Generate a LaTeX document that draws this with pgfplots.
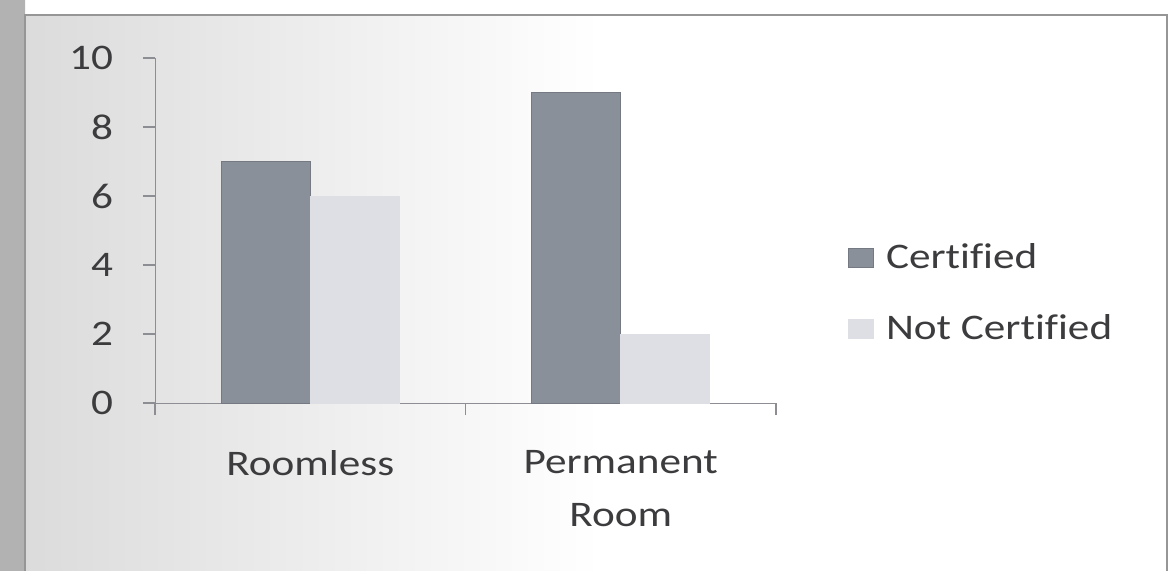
\documentclass[border=0pt]{standalone}
\usepackage{fontspec}
\setmainfont{Carlito}[FakeStretch=1.2, Ligatures=NoCommon]
\usepackage{pgfplots}
\pgfplotsset{compat=1.18}
\definecolor{certified}{RGB}{138,144,153}
\definecolor{notcertified}{RGB}{222,223,229}
\definecolor{axisgray}{RGB}{140,142,148}
\definecolor{labeltext}{RGB}{60,60,62}
\definecolor{framegray}{RGB}{150,150,150}
\begin{document}
\begin{tikzpicture}
% page area
\path[use as bounding box] (0,0) rectangle (586.5pt,285pt);
\shade[left color=black!30, right color=black!30] (0,0) rectangle (12.5pt,285pt);
\shade[left color=black!14, right color=white] (12.5pt,0) rectangle (300pt,277.5pt);
\fill[white] (300pt,0) rectangle (583.5pt,277.5pt);
\draw[framegray, line width=1pt] (12.5pt,-2pt) -- (12.5pt,277.5pt) -- (583.5pt,277.5pt) -- (583.5pt,-2pt);
\begin{axis}[
  at={(77.5pt,83.5pt)}, anchor=south west,
  scale only axis,
  width=310.5pt, height=172.5pt,
  xmin=-0.5, xmax=1.5,
  ymin=0, ymax=10,
  ytick={0,2,4,6,8,10},
  xtick={-0.5,0.5,1.5},
  xticklabels={},
  extra x ticks={0,1},
  extra x tick labels={Roomless,{Permanent\\Room}},
  extra x tick style={major tick length=0pt},
  axis x line=bottom, axis y line=left,
  axis line style={axisgray, -},
  tick style={axisgray, line width=0.6pt},
  major tick length=6pt,
  tick align=outside,
  ybar=0pt, bar width=44.5pt,
  /pgf/number format/assume math mode=true,
  tick label style={font=\fontsize{18}{26.5}\selectfont, text=labeltext},
  xticklabel style={align=center, yshift=-20pt},
  yticklabel style={xshift=-11.5pt},
  legend style={draw=none, fill=none, at={(1.116,0.319)}, anchor=west,
    font=\fontsize{18}{22}\selectfont, text=labeltext,
    row sep=17.5pt, inner sep=0pt,
    /tikz/every odd column/.append style={column sep=4pt}},
  legend cell align=left,
  legend image code/.code={\fill[#1] (0pt,-4.75pt) rectangle (12.5pt,4.75pt);},
]
\addplot[fill=certified, draw=certified!85!black, line width=0.3pt] coordinates {(0,7) (1,9)};
\addplot[fill=notcertified, draw=notcertified, line width=0.3pt] coordinates {(0,6) (1,2)};
\legend{Certified,Not Certified}
\end{axis}
\end{tikzpicture}
\end{document}
